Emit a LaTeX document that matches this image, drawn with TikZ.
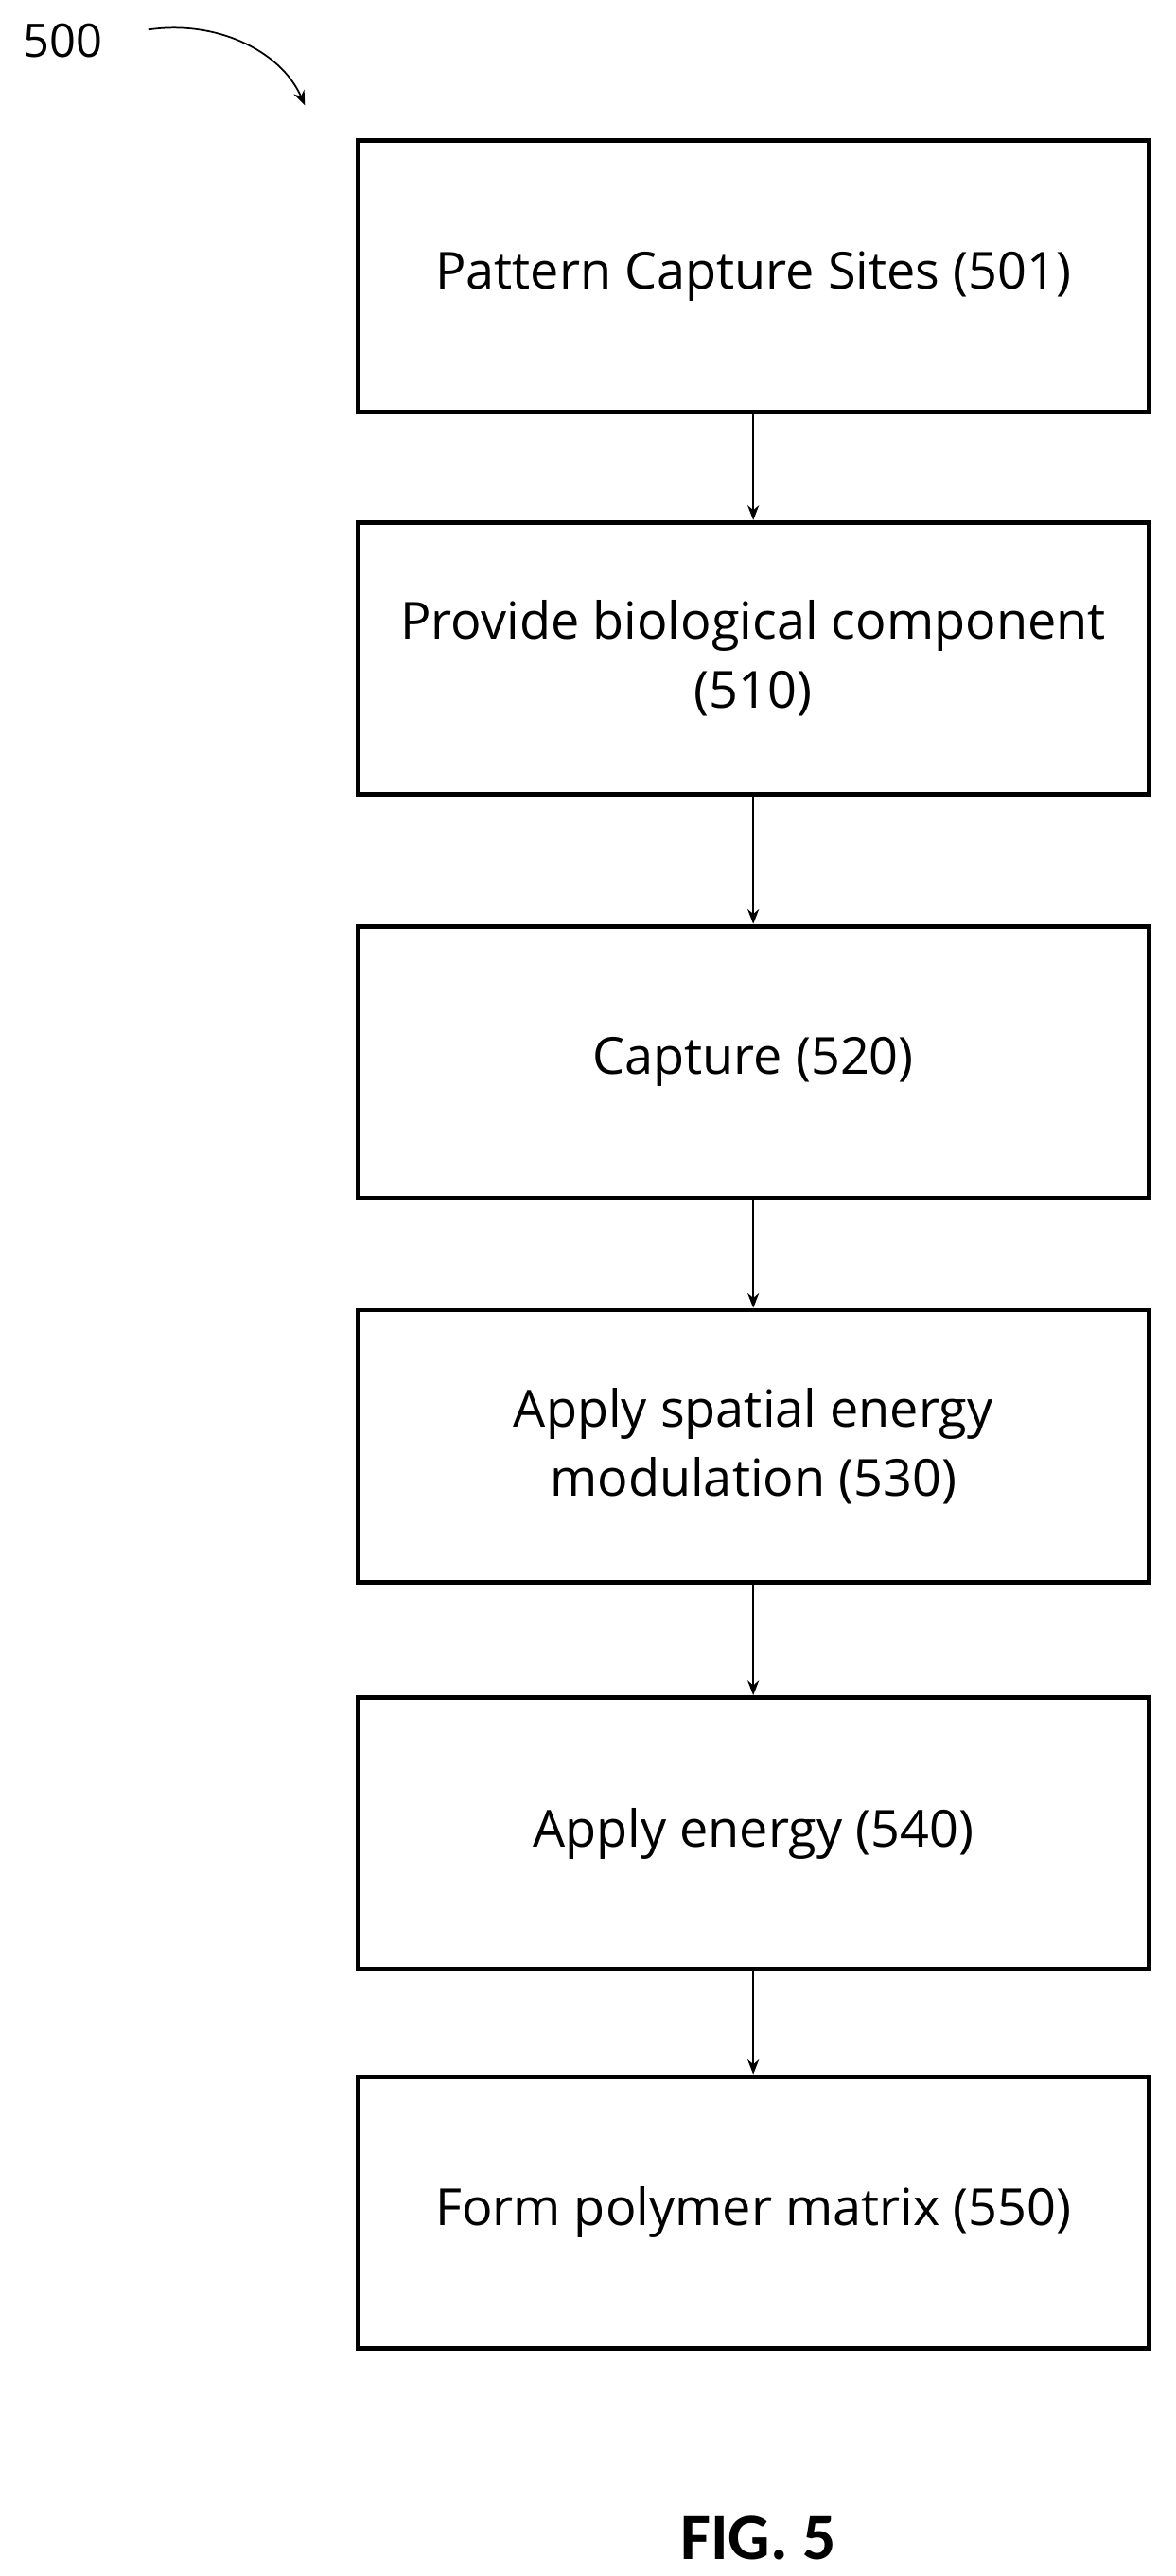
\documentclass[tikz,border=0pt]{standalone}
\usepackage{fontspec}
\setmainfont{Open Sans}
\newfontfamily\figfont{Carlito}
\usetikzlibrary{arrows.meta}
\begin{document}
\begin{tikzpicture}[x=1pt,y=-1pt,
  box/.style={draw,line width=2.8pt,minimum width=480pt,minimum height=165pt,align=center,font=\fontsize{31}{42}\selectfont,inner sep=0pt},
  arr/.style={-{Stealth[length=9pt,width=7pt]},line width=1pt}]
\useasboundingbox (0,0) rectangle (713,1563);
\node[box] (b1) at (457,167.5) {Pattern Capture Sites (501)};
\node[box] (b2) at (457,399.5) {Provide biological component\\(510)};
\node[box] (b3) at (457,644.5) {Capture (520)};
\node[box] (b4) at (457,877.5) {Apply spatial energy\\modulation (530)};
\node[box] (b5) at (457,1112.5) {Apply energy (540)};
\node[box] (b6) at (457,1342.5) {Form polymer matrix (550)};
\foreach \a/\b in {b1/b2,b2/b3,b3/b4,b4/b5,b5/b6} \draw[arr] (\a) -- (\b);
\node[font=\fontsize{28}{30}\selectfont] (lbl) at (38,25) {500};
\coordinate (c1) at (90,18);
\coordinate (c2) at (185,64);
\draw[arr] (c1) .. controls (130,12) and (170,30) .. (c2);
\node[font=\figfont\bfseries\fontsize{40}{44}\selectfont] (fig) at (460,1540) {FIG. 5};
\end{tikzpicture}
\end{document}
